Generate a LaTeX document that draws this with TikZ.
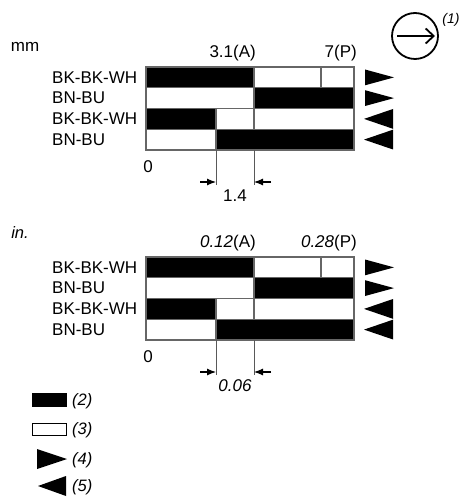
\documentclass[tikz,border=0pt]{standalone}
\usepackage{fontspec}
\setmainfont{Liberation Sans}
\usetikzlibrary{arrows.meta}
\tikzset{
  grid/.style={draw=black!60, line width=1.2pt},
  blk/.style={fill=black},
  lbl/.style={inner sep=0pt, font=\fontsize{17}{19}\selectfont},
  ilbl/.style={inner sep=0pt, font=\fontsize{16.5}{19}\selectfont\itshape},
  dimarrow/.style={draw=black, line width=1.1pt, -{Latex[length=9pt,width=7pt]}},
  ext/.style={draw=black!65, line width=1pt},
  tri/.style={fill=black}
}
\newcommand{\wirechart}[5]{%
\begin{scope}[shift={(0,#2)}]
  % black cells
  \fill[blk] (146,0) rectangle (254,20.75);
  \fill[blk] (254,20.75) rectangle (354,41.5);
  \fill[blk] (146,41.5) rectangle (216,62.25);
  \fill[blk] (216,62.25) rectangle (354,83);
  % grid
  \draw[grid] (146,0) rectangle (354,83);
  \draw[grid] (146,20.75) -- (354,20.75) (146,41.5) -- (354,41.5) (146,62.25) -- (354,62.25);
  \draw[grid] (254,0) -- (254,41.5) (321,0) -- (321,20.75);
  \draw[grid] (216,41.5) -- (216,83) (254,41.5) -- (254,62.25);
  % row labels
  \node[lbl, anchor=west] (#1r1) at (52,10.4) {BK-BK-WH};
  \node[lbl, anchor=west] (#1r2) at (52,31.1) {BN-BU};
  \node[lbl, anchor=west] (#1r3) at (52,51.9) {BK-BK-WH};
  \node[lbl, anchor=west] (#1r4) at (52,72.6) {BN-BU};
  % top labels
  \node[lbl, anchor=east] (#1A) at (256,-14) {#3};
  \node[lbl, anchor=east] (#1P) at (357,-14) {#4};
  \node[lbl] (#1zero) at (148,100) {0};
  % direction triangles
  \fill[tri] (365,2.5) -- (394,10.4) -- (365,18.3) -- cycle;
  \fill[tri] (365,23.2) -- (394,31.1) -- (365,39) -- cycle;
  \fill[tri] (393,42) -- (364,51.9) -- (393,61.8) -- cycle;
  \fill[tri] (393,62.7) -- (364,72.6) -- (393,82.5) -- cycle;
  % dimension
  \coordinate (#1e1t) at (216,83);
  \coordinate (#1e2t) at (254,83);
  \coordinate (#1e1b) at (216,118);
  \coordinate (#1e2b) at (254,118);
  \coordinate (#1d1) at (200,115);
  \coordinate (#1d2) at (216,115);
  \coordinate (#1d3) at (254,115);
  \coordinate (#1d4) at (271,115);
  \draw[ext] (#1e1t) -- (#1e1b);
  \draw[ext] (#1e2t) -- (#1e2b);
  \draw[dimarrow] (#1d1) -- (#1d2);
  \draw[dimarrow] (#1d4) -- (#1d3);
  \node[lbl] (#1dim) at (235,129) {#5};
\end{scope}}
\begin{document}
\begin{tikzpicture}[x=1pt,y=-1pt]
\useasboundingbox (0,0) rectangle (463,502);
\fill[white] (0,0) rectangle (463,502);
% unit labels
\node[lbl] (mm) at (25,47) {mm};
\node[ilbl] (inch) at (20,233) {in.};
% direction symbol
\node[draw, circle, line width=1.8pt, minimum size=46pt, inner sep=0pt] (dir) at (415,36) {};
\coordinate (dirA) at (397,36);
\coordinate (dirB) at (435,36);
\draw[line width=1.8pt, -{Straight Barb[length=8pt,width=15pt,line width=1.8pt]}] (dirA) -- (dirB);
\node[inner sep=0pt, font=\fontsize{14}{16}\selectfont\itshape] (one) at (451,20) {(1)};
% charts
\wirechart{m}{67}{3.1(A)}{7(P)}{1.4}
\wirechart{i}{257}{\textit{0.12}(A)}{\textit{0.28}(P)}{\textit{0.06}}
% legend
\fill[black] (32,393) rectangle (67,407);
\draw[black, line width=1.3pt, fill=white] (32.6,423.6) rectangle (66.4,435.4);
\fill[black] (37,449) -- (67,459) -- (37,469) -- cycle;
\fill[black] (38,486) -- (66,476) -- (66,496) -- cycle;
\node[ilbl, anchor=west] (l2) at (72,401) {(2)};
\node[ilbl, anchor=west] (l3) at (72,430) {(3)};
\node[ilbl, anchor=west] (l4) at (72,460) {(4)};
\node[ilbl, anchor=west] (l5) at (72,487) {(5)};
\end{tikzpicture}
\end{document}
